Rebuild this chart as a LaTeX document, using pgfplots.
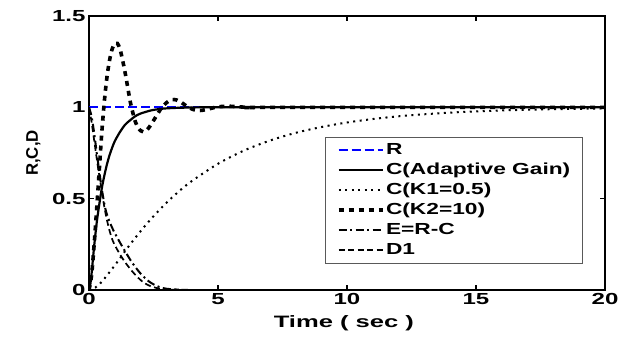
\documentclass[border=0pt]{standalone}
\usepackage{fontspec}
\setmainfont{Liberation Sans}[FakeStretch=1.5]
\newfontfamily\plainfont{Liberation Sans}
\newfontfamily\legfont{Liberation Sans}[FakeStretch=1.42]
\newfontfamily\xlabfont{Liberation Sans}[FakeStretch=1.55]
\usepackage{graphicx}
\usepackage{pgfplots}
\pgfplotsset{compat=1.18}
\definecolor{mblue}{RGB}{0,0,255}
\begin{document}
\begin{tikzpicture}
\begin{axis}[
 scale only axis, width=516pt, height=274pt,
 xmin=0, xmax=20, ymin=0, ymax=1.5,
 xtick={0,5,10,15,20}, ytick={0,0.5,1,1.5},
 tick align=inside, major tick length=5pt,
 every tick/.style={black, line width=1.3pt},
 axis line style={line width=2.2pt},
 /pgf/number format/assume math mode=true,
 tick label style={font=\fontsize{16}{19}\selectfont\bfseries},
 xlabel={\xlabfont\bfseries Time ( sec )},
 ylabel={\plainfont\bfseries R,C,D},
 xlabel style={font=\fontsize{16.5}{19}\selectfont, at={(axis description cs:0.494,-0.12)}, anchor=center},
 ylabel style={font=\fontsize{16.8}{19}\selectfont, at={(axis description cs:-0.108,0.5)}, anchor=center},
 legend style={at={(axis description cs:0.957,0.0985)}, anchor=south east,
   draw=black!65, line width=0.9pt, fill=white, outer sep=0pt,
   font=\fontsize{16}{19}\selectfont\legfont\bfseries,
   inner xsep=11pt, inner ysep=3pt, row sep=0pt,
   nodes={inner sep=1.5pt, text height=12.5pt, text depth=4.5pt}},
 legend cell align=left,
 legend image code/.code={\draw[#1] (0pt,0pt) -- (44pt,0pt);},
 line cap=butt,
]
\addplot[color=mblue, line width=2pt, dash pattern=on 9pt off 4pt] coordinates {(0,1) (20,1)};
\addlegendentry{R}
\addplot[black, line width=2.2pt, smooth] coordinates {
(0,0) (0.05,0.03) (0.1,0.09) (0.2,0.24) (0.3,0.37) (0.4,0.47) (0.5,0.56) (0.6,0.63)
(0.7,0.69) (0.8,0.74) (0.9,0.78) (1.0,0.815) (1.2,0.865) (1.4,0.905) (1.6,0.93)
(1.8,0.952) (2.0,0.966) (2.4,0.983) (2.8,0.992) (3.2,0.996) (3.6,0.998) (4.0,0.999)
(5,1) (20,1)};
\addlegendentry{C(Adaptive Gain)}
\addplot[black, line width=2pt, dash pattern=on 2pt off 4.5pt, smooth] coordinates {
(0,0) (0.25,0.014) (0.5,0.046) (1,0.135) (1.5,0.232) (2,0.322) (2.5,0.404) (3,0.477)
(3.5,0.542) (4,0.598) (5,0.691) (6,0.763) (7,0.8175) (8,0.86) (9,0.892) (10,0.917)
(11,0.936) (12,0.951) (13,0.962) (14,0.971) (15,0.978) (16,0.983) (17,0.987)
(18,0.99) (19,0.992) (20,0.994)};
\addlegendentry{C(K1=0.5)}
\addplot[black, line width=3.6pt, dash pattern=on 5pt off 5pt, smooth] coordinates {
(0,0) (0.1,0.08) (0.2,0.25) (0.3,0.45) (0.4,0.66) (0.5,0.87) (0.6,1.04) (0.7,1.17)
(0.8,1.26) (0.9,1.32) (1.0,1.35) (1.1,1.35) (1.2,1.32) (1.3,1.26) (1.4,1.19)
(1.5,1.11) (1.6,1.03) (1.7,0.97) (1.8,0.92) (1.9,0.89) (2.0,0.872) (2.1,0.866)
(2.2,0.87) (2.3,0.885) (2.4,0.905) (2.6,0.95) (2.8,0.995) (3.0,1.025) (3.2,1.042)
(3.4,1.04) (3.6,1.025) (3.8,1.005) (4.0,0.99) (4.2,0.983) (4.4,0.984) (4.6,0.99)
(4.8,0.997) (5.0,1.003) (5.4,1.006) (5.8,1.003) (6.4,0.998) (7,1) (20,1)};
\addlegendentry{C(K2=10)}
\addplot[black, line width=2pt, dash pattern=on 8pt off 3.5pt on 2pt off 3.5pt, smooth] coordinates {
(0,1) (0.1,0.95) (0.2,0.86) (0.3,0.75) (0.4,0.65) (0.5,0.55) (0.66,0.43) (0.9,0.34)
(1.18,0.265) (1.45,0.2) (1.69,0.146) (2.0,0.09) (2.34,0.045) (2.7,0.018) (3.0,0.007)
(3.5,0.002) (4,0) (20,0)};
\addlegendentry{E=R-C}
\addplot[black, line width=1.7pt, dash pattern=on 6pt off 3.5pt, smooth] coordinates {
(0,1) (0.1,0.92) (0.2,0.82) (0.35,0.67) (0.47,0.565) (0.6,0.45) (0.75,0.35)
(0.92,0.27) (1.18,0.2) (1.43,0.146) (1.75,0.09) (2.08,0.045) (2.4,0.02) (2.8,0.006)
(3.2,0.001) (4,0) (20,0)};
\addlegendentry{D1}
\end{axis}
\path (-89pt,-48pt) rectangle (545pt,290pt);
\end{tikzpicture}
\end{document}
